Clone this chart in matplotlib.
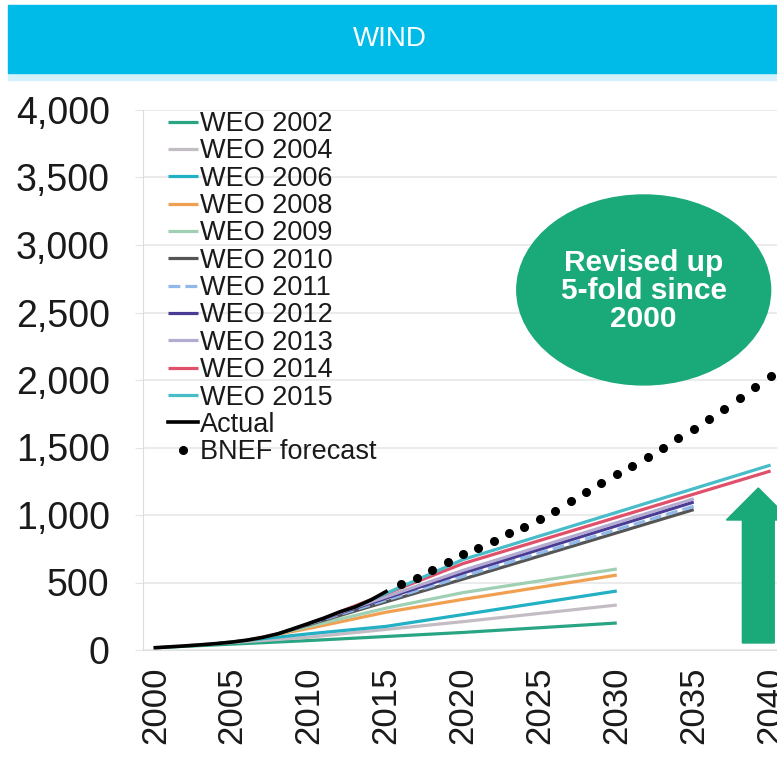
import matplotlib
matplotlib.use("Agg")
import matplotlib.pyplot as plt
from matplotlib.patches import Ellipse, FancyArrow, Rectangle
from matplotlib.ticker import FuncFormatter

plt.rcParams['font.family'] = ['Liberation Sans', 'DejaVu Sans']

# installed wind capacity, GW
actual_years = list(range(2000, 2016))
actual_gw = [17, 24, 31, 39, 48, 59, 74, 94, 121, 159, 198, 238, 283, 319, 370, 433]

bnef_years = list(range(2016, 2041))
bnef_gw = [489, 531, 593, 654, 711, 758, 810, 864, 914, 970, 1033, 1102, 1173,
           1235, 1304, 1363, 1432, 1494, 1568, 1637, 1711, 1785, 1864, 1946, 2030]

# WEO projections (base year + outlook points)
weo2002_years = [2000, 2010, 2020, 2030]
weo2002_gw = [17, 70, 130, 200]
weo2004_years = [2002, 2010, 2020, 2030]
weo2004_gw = [31, 95, 210, 333]
weo2006_years = [2004, 2010, 2015, 2030]
weo2006_gw = [48, 120, 175, 437]
weo2008_years = [2006, 2010, 2015, 2020, 2030]
weo2008_gw = [74, 160, 280, 375, 555]
weo2009_years = [2007, 2010, 2015, 2020, 2030]
weo2009_gw = [94, 175, 310, 425, 600]
weo2010_years = [2008, 2020, 2035]
weo2010_gw = [121, 525, 1040]
weo2011_years = [2009, 2020, 2035]
weo2011_gw = [159, 545, 1065]
weo2012_years = [2010, 2020, 2035]
weo2012_gw = [198, 570, 1096]
weo2013_years = [2011, 2020, 2035]
weo2013_gw = [238, 590, 1120]
weo2014_years = [2012, 2020, 2040]
weo2014_gw = [283, 640, 1326]
weo2015_years = [2013, 2020, 2040]
weo2015_gw = [319, 670, 1370]

weo_labels = ["WEO 2002", "WEO 2004", "WEO 2006", "WEO 2008", "WEO 2009", "WEO 2010",
              "WEO 2011", "WEO 2012", "WEO 2013", "WEO 2014", "WEO 2015"]
weo_colors = ["#2aa584", "#c4bcc4", "#22b0c4", "#f0a050", "#a0d0b4", "#555555",
              "#90b8e8", "#4a3c94", "#b4acd0", "#e0506a", "#48bcc8"]
weo_series = [
    (weo2002_years, weo2002_gw), (weo2004_years, weo2004_gw), (weo2006_years, weo2006_gw),
    (weo2008_years, weo2008_gw), (weo2009_years, weo2009_gw), (weo2010_years, weo2010_gw),
    (weo2011_years, weo2011_gw), (weo2012_years, weo2012_gw), (weo2013_years, weo2013_gw),
    (weo2014_years, weo2014_gw), (weo2015_years, weo2015_gw),
]

green = "#1aa978"

fig = plt.figure(figsize=(7.77, 7.61), dpi=100)
ax = fig.add_axes([143 / 777, 111 / 761, 643 / 777, 540 / 761])

for (yrs, vals), label, color in zip(weo_series, weo_labels, weo_colors):
    style = "--" if label == "WEO 2011" else "-"
    ax.plot(yrs, vals, color=color, lw=2.3, ls=style, label=label,
            solid_capstyle="butt")

ax.plot(actual_years, actual_gw, color="black", lw=2.6, label="Actual")
ax.plot(bnef_years, bnef_gw, ls="none", marker="o", ms=5.5, color="black",
        label="BNEF forecast")

ax.set_xlim(1999.2, 2041)
ax.set_ylim(0, 4000)
ax.set_xticks(range(2000, 2041, 5))
ax.set_yticks(range(0, 4001, 500))
ax.yaxis.set_major_formatter(FuncFormatter(lambda v, p: "{:,.0f}".format(v)))
ax.tick_params(axis="y", labelsize=27, length=6, color="#e4e4e4", pad=18,
               labelcolor="#1a1a1a")
ax.tick_params(axis="x", labelsize=25, length=0, pad=12, labelrotation=90,
               labelcolor="#1a1a1a")
ax.grid(axis="y", color="#e8e8e8", lw=1.2)
ax.set_axisbelow(True)
for side in ["top", "right"]:
    ax.spines[side].set_visible(False)
ax.spines["left"].set_color("#dcdcdc")
ax.spines["bottom"].set_color("#e0e0e0")

leg = ax.legend(loc="upper left", bbox_to_anchor=(168 / 777, 1 - 111 / 761),
                bbox_transform=fig.transFigure, frameon=False, fontsize=19.5,
                handlelength=1.1, handletextpad=0.08, labelspacing=0.05,
                borderpad=0, borderaxespad=0, numpoints=1)
for t in leg.get_texts():
    t.set_color("#1a1a1a")

# callout
ell = Ellipse((2031.75, 2667), 16.5, 1407, color=green, clip_on=False, zorder=5)
ax.add_patch(ell)
ax.text(2031.75, 2660, "Revised up\n5-fold since\n2000", color="white", fontsize=21.5,
        fontweight="bold", ha="center", va="center", linespacing=1.0, zorder=6)

arrow = FancyArrow(2039.2, 52, 0, 1148, width=2.07, head_width=4.15, head_length=237,
                   length_includes_head=True, color=green, clip_on=False, zorder=5)
ax.add_patch(arrow)

# header band
fig.patches.append(Rectangle((8 / 777, 1 - 80 / 761), 1, 7 / 761, color="#d4f2fb",
                             transform=fig.transFigure, zorder=0))
fig.patches.append(Rectangle((8 / 777, 1 - 73 / 761), 1, 68 / 761, color="#00bbe7",
                             transform=fig.transFigure, zorder=1))
fig.text(390 / 777, 1 - 39 / 761, "WIND", color="white", fontsize=20,
         ha="center", va="center")

fig.savefig("out.png", dpi=100)
